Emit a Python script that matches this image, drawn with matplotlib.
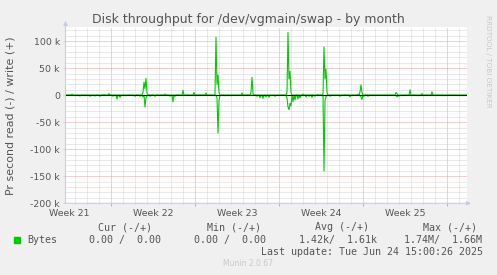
import numpy as np
import pandas as pd
import matplotlib
matplotlib.use("Agg")
import matplotlib.pyplot as plt
import matplotlib.dates as mdates
import matplotlib.transforms as mtransforms
from matplotlib.ticker import MultipleLocator, FuncFormatter
from matplotlib.patches import Rectangle

W, H = 497, 275
START = pd.Timestamp("2025-05-22 05:00")
END = pd.Timestamp("2025-06-24 16:00")

# hours after START where the 2-hour samples are not zero
sample_hours = [13, 29, 49, 59, 69, 77, 87, 95, 103, 109, 121, 139, 149, 155, 157,
                159, 161, 163, 169, 179, 183, 199, 209, 215, 219, 235, 257, 281,
                299, 301, 303, 305, 307, 309, 319, 329, 353, 371, 373, 375, 383,
                389, 395, 401, 407, 413, 419, 443, 445, 447, 449, 451, 455, 459,
                465, 469, 475, 481, 487, 493, 499, 505, 515, 517, 519, 521, 523,
                529, 539, 549, 559, 569, 577, 585, 589, 591, 593, 597, 605, 661,
                663, 667, 673, 689, 705, 713, 733, 757, 793]
# bytes per second, in thousands
write_k = [2, 0, 0, 0, 0, 1, 3, 0, 0, 0, 0, 0, 0, 5, 24,
           12, 31, 4, 0, 0, 1, 2, 0, 0, 0, 9, 5, 4,
           2, 107, 20, 37, 5, 0, 0, 0, 4, 5, 33, 3, 0,
           0, 0, 0, 0, 0, 0, 5, 116, 30, 44, 5, 0, 0,
           0, 0, 2, 0, 0, 1, 0, 1, 3, 89, 30, 48, 5,
           0, 0, 0, 1, 0, 0, 2, 6, 19, 5, 0, 0, 5,
           3, 0, 0, 10, 0, 3, 6, 0, 0]
read_k = [0, 1.5, 2, 1.5, 2, 0, 0, 2, 7, 4, 1, 2, 2, 3, 0,
          22, 5, 0, 2, 2, 0, 0, 2, 12, 2, 0, 0, 0,
          0, 0, 5, 70, 10, 1, 1, 1, 0, 0, 0, 0, 2,
          5, 6, 3, 4, 1, 2, 5, 22, 27, 15, 20, 12, 9,
          7, 5, 0, 3, 2, 4, 2, 0, 0, 140, 10, 3, 0,
          2, 1, 2, 0, 3, 1, 0, 0, 3, 8, 2, 2, 0,
          3, 2, 1, 0, 1, 0, 0, 1, 1]

week_labels = ["Week 21", "Week 22", "Week 23", "Week 24", "Week 25"]
week_centers = ["2025-05-22 12:00", "2025-05-29 12:00", "2025-06-05 12:00",
                "2025-06-12 12:00", "2025-06-19 12:00"]

legend_cols = ["Cur (-/+)", "Min (-/+)", "Avg (-/+)", "Max (-/+)"]
legend_vals = ["0.00 /  0.00", "0.00 /  0.00", "1.42k/  1.61k", "1.74M/  1.66M"]

GREEN = "#00CC00"
TXT = "#555555"
MGRID = "#E8A0A0"
GRID = "#D4D4D4"
AXIS = "#C4CCF4"


def fx(px):
    return px / W


def fy(py):
    return 1 - py / H


grid_hours = np.arange(1, 804, 2)
write = np.zeros(len(grid_hours))
read = np.zeros(len(grid_hours))
idx = (np.array(sample_hours) - 1) // 2
write[idx] = np.array(write_k) * 1000
read[idx] = np.array(read_k) * 1000
times = START + pd.to_timedelta(grid_hours, unit="h")

fig = plt.figure(figsize=(W / 100, H / 100), dpi=100, facecolor="#F0F0F0")
ax = fig.add_axes([fx(65.5), fy(203.3), fx(467) - fx(65.5), fy(27) - fy(203.3)])
ax.set_facecolor("white")

ax.plot(times, write, color=GREEN, lw=0.8, zorder=3)
ax.plot(times, -read, color=GREEN, lw=0.8, zorder=3)
ax.axhline(0, color="black", lw=0.8, zorder=4)

ax.set_xlim(START, END)
ax.set_ylim(-200000, 126000)

ax.xaxis.set_major_locator(mdates.WeekdayLocator(byweekday=mdates.MO))
ax.xaxis.set_minor_locator(mdates.DayLocator())
ax.xaxis.set_major_formatter(FuncFormatter(lambda v, p: ""))
ax.yaxis.set_major_locator(MultipleLocator(50000))
ax.yaxis.set_minor_locator(MultipleLocator(10000))
ax.yaxis.set_major_formatter(FuncFormatter(lambda v, p: "0" if v == 0 else f"{int(v / 1000)} k"))

ax.grid(which="minor", color=GRID, lw=0.72, linestyle=(0, (1, 1)), zorder=1)
ax.grid(which="major", color=MGRID, lw=0.72, linestyle=(0, (1, 1)), zorder=2)

for s in ax.spines.values():
    s.set_visible(False)
ax.tick_params(axis="y", which="major", length=2, color=GRID, labelsize=6.75,
               labelcolor=TXT, pad=2)
ax.tick_params(axis="y", which="minor", length=0)
ax.tick_params(axis="x", which="major", length=2, color=MGRID, labelsize=6.75)
ax.tick_params(axis="x", which="minor", length=1, color=GRID)

# axis lines with arrows, rrdtool style
ax.annotate("", xy=(0, 1.035), xytext=(0, 0), xycoords="axes fraction",
            arrowprops=dict(arrowstyle="-|>", color=AXIS, lw=0.8,
                            mutation_scale=6, shrinkA=0, shrinkB=0), zorder=5)
ax.annotate("", xy=(1.01, 0), xytext=(0, 0), xycoords="axes fraction",
            arrowprops=dict(arrowstyle="-|>", color=AXIS, lw=0.8,
                            mutation_scale=6, shrinkA=0, shrinkB=0), zorder=5)

wk_trans = mtransforms.blended_transform_factory(ax.transData, fig.transFigure)
for lab, c in zip(week_labels, week_centers):
    ax.text(pd.Timestamp(c), fy(213), lab, ha="center", va="center",
            fontsize=6.75, color=TXT, transform=wk_trans, clip_on=False)

fig.text(fx(248), fy(19.5), "Disk throughput for /dev/vgmain/swap - by month",
         ha="center", va="center", fontsize=9, color=TXT)
fig.text(fx(11), fy(116), "Pr second read (-) / write (+)", rotation=90,
         ha="center", va="center", fontsize=7.9, color=TXT)
fig.text(fx(488), fy(15), "RRDTOOL / TOBI OETIKER", rotation=270,
         ha="center", va="top", fontsize=5.2, color="#C8C8C8")

mono = dict(family="DejaVu Sans Mono", fontsize=7.2, color=TXT, va="center")
for lab, x in zip(legend_cols, [98, 207, 315, 423]):
    fig.text(fx(x), fy(227), lab, ha="left", **mono)
fig.patches.append(Rectangle((fx(14), fy(243)), fx(6), 6 / H, color=GREEN,
                             transform=fig.transFigure, figure=fig))
fig.text(fx(27), fy(240), "Bytes", ha="left", **mono)
for val, x in zip(legend_vals, [89, 194, 299, 404]):
    fig.text(fx(x), fy(240), val, ha="left", **mono)
fig.text(fx(483), fy(252), "Last update: Tue Jun 24 15:00:26 2025", ha="right", **mono)
fig.text(fx(248), fy(263), "Munin 2.0.67", ha="center", va="center",
         fontsize=5.5, color="#C8C8C8")

fig.savefig("out.png", dpi=100, facecolor=fig.get_facecolor())
